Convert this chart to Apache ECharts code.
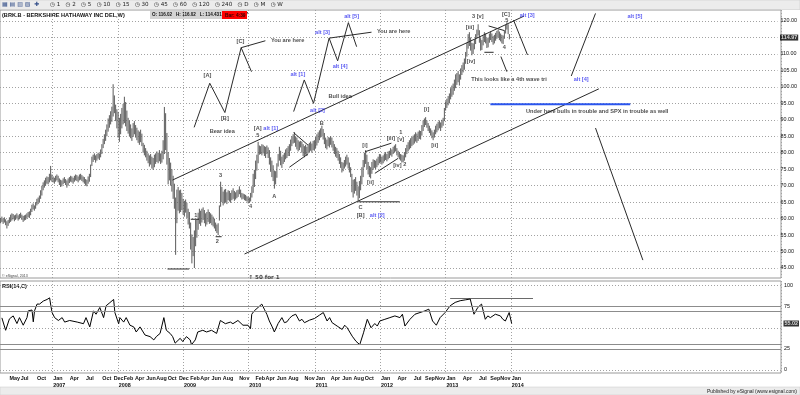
<!DOCTYPE html>
<html>
<head>
<meta charset="utf-8">
<title>BRK.B weekly</title>
<script src="https://cdn.jsdelivr.net/npm/echarts@6/dist/echarts.min.js"></script>
<style>
html,body{margin:0;padding:0;background:#fff;}
#chart{width:800px;height:395px;}
</style>
</head>
<body>
<div id="chart"></div>
<script>
// ---------------- data ----------------
const symbolTitle = '(BRK.B - BERKSHIRE HATHAWAY INC DEL,W)';
const firstWeek = '2006-03-17';
const totalWeeks = 622; // weekly slots on the time axis (data + empty projection space)

// weekly lows / highs, 2006-03-17 .. 2014-01-03
const lows = [
 58.6,59.0,58.4,58.8,58.0,57.0,57.8,58.6,59.0,59.4,
 59.8,59.2,59.6,60.0,59.4,59.8,60.2,59.6,59.0,59.4,
 59.6,60.0,60.4,60.2,61.0,62.0,62.8,62.4,63.0,64.0,
 64.4,65.0,66.0,67.0,68.6,69.4,70.0,70.6,70.4,71.0,71.6,71.2,
 71.0,70.6,71.2,71.6,71.0,70.2,69.6,69.8,70.4,70.8,
 70.2,69.4,70.0,70.8,71.2,71.0,70.6,71.2,71.6,71.4,
 71.0,71.6,71.8,71.4,71.0,70.6,70.0,69.8,70.6,71.2,
 72.6,76.0,77.2,77.8,77.0,77.6,78.2,77.8,78.6,79.6,
 81.4,82.6,83.6,85.0,86.4,87.6,88.6,89.4,91.0,92.0,89.6,87.4,
 84.6,83.3,85.6,87.4,88.6,89.0,88.0,86.6,85.8,85.0,
 84.4,83.6,84.8,85.6,84.6,83.8,83.0,82.4,83.2,82.0,
 80.0,79.2,78.6,77.6,76.8,75.8,76.4,75.2,74.8,75.6,
 76.6,77.2,76.8,77.4,76.6,77.0,78.0,79.6,80.8,76.4,
 70.4,71.6,70.0,68.2,66.0,63.0,49.0,58.6,62.4,61.6,62.0,62.6,
 61.2,60.6,61.8,60.2,58.2,57.0,50.6,46.4,48.6,45.0,51.6,54.2,
 56.6,58.4,57.8,58.8,59.6,58.6,57.6,58.2,59.0,58.4,
 58.6,58.0,57.6,57.0,56.2,55.6,55.0,59.4,63.6,65.0,
 64.0,64.6,65.0,64.4,65.6,65.2,64.8,65.6,66.0,65.4,
 65.8,66.2,66.6,67.4,66.4,65.8,66.0,65.6,65.4,65.2,64.6,
 64.8,65.2,66.4,67.8,69.6,72.0,74.6,76.8,79.4,79.6,79.2,79.8,
 79.0,78.4,79.6,78.4,76.4,74.2,72.6,71.4,69.1,70.4,
 72.4,75.8,77.6,76.2,75.4,76.6,77.2,78.0,78.4,79.0,
 79.0,80.6,82.0,82.8,83.0,81.8,81.0,80.4,80.8,81.6,
 80.0,79.0,78.6,79.4,79.0,79.8,80.2,80.6,80.0,80.8,
 80.6,81.4,82.2,83.0,83.8,84.6,85.0,84.0,82.6,81.4,
 81.0,82.0,81.6,82.4,81.6,80.6,79.6,78.8,78.4,77.6,
 76.6,75.4,74.0,74.4,75.2,75.8,76.4,75.2,74.0,72.6,
 68.0,66.4,67.6,68.4,67.0,65.4,66.2,68.6,70.4,72.6,
 75.6,76.6,75.0,73.4,72.6,72.2,73.6,74.8,75.4,75.0,
 75.6,76.2,76.8,77.0,76.4,76.8,77.4,77.8,77.4,78.0,
 78.4,79.2,78.8,79.6,80.0,80.4,79.2,78.6,78.0,77.6,
 77.0,77.2,77.6,78.6,79.6,80.4,81.0,81.4,82.0,82.4,
 82.8,83.4,83.0,83.6,84.2,84.0,85.2,86.6,87.8,88.4,
 87.6,86.6,86.0,85.2,84.4,83.8,84.6,85.6,86.2,86.8,87.4,86.6,87.6,88.2,
 89.6,92.8,93.6,94.4,95.0,96.2,97.0,97.6,98.8,99.6,
 100.6,101.4,100.4,102.2,103.6,104.4,105.2,107.0,109.2,111.6,
 112.4,111.0,109.6,110.0,111.4,113.0,114.8,115.6,113.4,111.0,
 111.2,112.6,113.6,113.2,111.8,112.0,113.4,114.2,113.6,112.8,113.2,114.0,114.6,
 115.0,114.2,113.8,113.2,113.0,114.6,116.2,117.4,116.0,114.4317
];
const highs = [
 60.2,60.6,60.0,60.4,59.8,59.2,59.6,60.4,61.2,61.6,
 61.4,61.0,61.2,61.6,61.0,61.4,61.8,61.2,60.8,61.0,
 61.2,61.6,62.0,62.2,63.0,64.2,64.6,64.0,65.0,66.0,
 66.4,67.0,68.6,70.0,71.0,71.6,72.4,72.8,72.6,73.6,76.0,73.4,
 72.8,72.4,73.0,73.4,73.0,72.2,71.8,71.6,72.2,72.6,
 72.0,71.6,72.2,72.6,73.0,72.8,72.4,73.0,73.4,73.2,
 72.8,73.4,73.6,73.2,72.8,72.6,72.0,71.8,72.8,73.6,
 76.4,78.8,79.4,79.8,79.2,79.6,80.0,79.8,81.0,82.6,
 84.2,85.6,87.0,88.6,90.4,91.4,92.6,94.0,100.8,97.4,94.6,93.2,
 92.4,90.6,91.8,93.6,94.8,97.0,95.4,92.8,90.6,89.8,
 88.6,87.4,89.0,89.6,88.4,87.6,86.8,86.4,87.0,85.8,
 83.0,82.4,81.4,80.6,79.8,79.2,79.6,78.8,78.4,79.4,
 79.8,80.4,80.0,80.8,79.8,80.6,83.8,93.9,92.0,86.0,
 80.2,78.4,77.0,75.0,73.0,70.6,66.4,68.8,69.6,68.6,68.8,67.8,
 66.0,65.4,65.8,64.8,63.0,62.0,58.8,55.2,54.4,56.4,59.6,59.8,
 61.8,63.0,62.4,63.0,63.4,62.6,61.6,62.0,62.8,62.0,
 61.6,61.2,60.6,60.0,58.8,58.2,58.6,64.0,71.2,69.6,
 68.2,68.8,69.0,68.0,68.6,68.4,67.8,68.6,69.2,68.4,
 68.0,68.6,68.8,69.8,68.8,67.8,67.6,67.4,67.2,66.8,66.6,
 66.4,67.8,69.8,73.6,74.8,77.6,79.4,83.3,82.2,82.0,82.6,82.4,
 82.0,81.8,82.2,81.6,80.8,78.6,77.6,76.2,74.6,74.4,
 76.8,79.6,81.8,80.6,78.8,79.4,80.0,81.0,81.4,82.0,
 82.6,84.0,85.0,85.6,86.3,85.0,84.6,83.8,83.4,83.6,
 83.4,82.6,82.0,82.4,81.8,82.6,83.0,83.4,82.8,83.6,
 83.8,84.8,85.6,86.2,86.8,87.4,88.2,87.2,86.0,84.6,
 84.0,84.8,84.6,85.0,84.6,83.6,82.6,81.8,81.4,80.6,
 79.6,78.6,77.2,77.0,77.8,78.8,79.4,78.6,77.0,75.6,
 73.6,71.8,72.0,72.6,71.2,69.8,71.4,73.0,75.6,77.8,
 80.0,80.8,79.4,77.2,76.0,75.6,77.2,78.0,77.8,77.6,
 78.2,78.8,79.6,79.4,78.8,79.2,79.8,80.2,79.6,80.4,
 80.6,81.4,81.0,81.8,82.2,82.6,81.4,80.6,80.2,79.6,
 79.4,79.2,80.2,81.4,82.4,83.2,83.8,84.4,84.8,85.2,
 85.6,86.2,85.8,86.4,86.8,86.6,88.4,89.8,90.4,90.8,
 89.8,89.0,88.2,87.4,86.8,86.2,87.0,88.2,88.8,89.4,89.8,89.2,90.0,90.6,
 93.6,95.6,96.4,97.2,98.0,99.6,100.4,101.0,102.2,103.8,
 104.2,104.8,103.8,105.6,106.6,107.4,108.6,110.6,113.4,116.0,
 116.6,115.0,113.4,113.2,114.4,116.0,117.4,119.0,117.2,114.8,
 114.2,115.6,116.6,116.2,114.8,115.0,116.2,116.8,116.2,115.4,115.8,116.4,117.0,
 117.4,116.8,116.2,115.8,115.6,117.2,118.8,119.6,119.0,116.02
];
const lastOpen = 116.02;
const lastClose = 114.97;
const barClock = '4:39';

// RSI(14): [week index, value]
const rsiWeeks = [1,4,5,7,10,13,15,18,21,22,25,26,27,29,31,34,37,39,40,41,43,46,49,51,55,61,66,68,71,74,76,79,82,84,87,90,91,94,95,98,100,103,106,108,111,115,119,122,124,127,130,131,132,135,137,139,143,145,148,151,152,155,157,161,164,168,172,175,176,179,183,185,189,193,197,199,200,202,205,206,
 208,210,212,214,216,218,221,224,226,228,230,232,235,238,240,242,246,250,254,257,260,262,264,268,272,274,276,280,283,286,289,292,295,298,300,302,306,310,314,318,320,322,326,330,334,338,341,344,347,350,354,358,362,366,370,374,377,380,383,386,388,390,394,398,400,402,405,407];
const rsiValues = [61.7,47,45,60.5,64,55,62,53,62,70,71,57,70,78,78,81.6,83.5,85.4,76,68,62,58.6,62,56.7,58.6,56.7,54.8,62,51,70,66,74,62,76,79.7,83.5,68,54.8,62,56.7,62,53,51,45,51,41.4,39.5,35.6,39.5,43.3,62,62,47,43.3,39.5,31.8,37.5,33.7,39.5,35.6,29.9,35.6,45,47,45,47,43.3,58.6,56.7,54.8,56.7,54.8,58.6,53,53,49,66,70,74,76,
 78,72,66,58,52,45,55,62,56,57,61,64,66,58,60,56,59,61,65,68,58,62,56,52,48,53,50,40,34,30,44,60,50,55,52,58,60,62,64,62,66,52,60,66,68,70,72,58,53,62,68,76,80,82,83,84,66,74,78,60,64,62,66,64,60,58,68,55.02];
const rsiGuides = [75, 70, 30, 25];
const rsiHighLine = {from: 358, to: 424, level: 85.2};

// time axis labels
const monthLabels = ['2006-05','2006-07','2006-10','2007-01','2007-04','2007-07','2007-10','2007-12',
 '2008-02','2008-04','2008-06','2008-08','2008-10','2008-12','2009-02','2009-04','2009-06','2009-08','2009-11',
 '2010-02','2010-04','2010-06','2010-08','2010-11','2011-01','2011-04','2011-06','2011-08','2011-10',
 '2012-01','2012-04','2012-07','2012-09','2012-11','2013-01','2013-04','2013-07','2013-09','2013-11','2014-01'];
const yearLabels = ['2007','2008','2009','2010','2011','2012','2013','2014'];
const monthNames = ['Jan','Feb','Mar','Apr','May','Jun','Jul','Aug','Sep','Oct','Nov','Dec'];

// hand-drawn annotations, in chart coordinates [week index, price]
const annoLines = [
 [[154.8,87.7],[167.3,101.1],[179.4,92.2],[192.4,111.9],[200.7,104.6]],
 [[192.4,111.9],[211.8,114.0]],
 [[234.4,92.5],[242.9,102.1],[250.3,95.0],[262.8,114.8],[269.6,107.9],[278.2,119.5],[284.8,112.2]],
 [[262.8,114.8],[296.7,116.6]],
 [[137.5,71.7],[418.8,121.5]],
 [[195.1,49.25],[478.6,99.4]],
 [[152.1,59.8],[158.7,59.8]],
 [[172.0,54.5],[176.8,54.5]],
 [[133.5,44.7],[150.8,44.7]],
 [[286.1,65.1],[319.3,65.1]],
 [[234.4,86.1],[245.8,82.35]],
 [[231.0,75.6],[245.8,79.6]],
 [[291.5,80.3],[312.6,82.9]],
 [[299.4,73.75],[318.0,78.3]],
 [[390.4,118.5],[402.9,117.1]],
 [[387.0,110.5],[394.4,110.5]],
 [[410.3,120.3],[421.5,109.7]],
 [[400.2,109.2],[405.0,104.6]],
 [[456.5,103.3],[475.9,122.3]],
 [[475.9,87.5],[513.8,47.4]]
];
const blueLevel = {from: 391.8, to: 503.7, price: 94.7};
// [week, price, text, colour (d=dark, b=blue), anchor (c=centre, l=left)]
const annoTexts = [
 [165.5,103.6,'[A]','d','c'],[179.4,90.45,'[B]','d','c'],[191.9,113.7,'[C]','d','c'],
 [177.3,86.4,'Bear idea','d','c'],[215.8,114.0,'You are here','d','l'],
 [237.8,103.9,'alt [1]','b','c'],[253.5,92.77,'alt [2]','b','c'],[257.5,116.6,'alt [3]','b','c'],
 [271.6,106.1,'alt [4]','b','c'],[280.8,121.5,'alt [5]','b','c'],[271.6,97.0,'Bull idea','d','c'],
 [300.7,116.75,'You are here','d','l'],
 [376.1,102.1,'This looks like a 4th wave tri','d','l'],[458.1,102.1,'alt [4]','b','l'],
 [419.9,92.67,'Under here bulls in trouble and SPX in trouble as well','d','l'],
 [414.9,121.8,'alt [3]','b','l'],[501.1,121.3,'alt [5]','b','l'],
 [404.2,122.1,'[C]','d','c'],[405.0,120.1,'5','d','c'],[402.9,111.9,'4','d','c'],
 [381.7,121.3,'3 [v]','d','c'],[375.5,118.1,'[iii]','d','c'],[376.3,107.6,'[iv]','d','c'],
 [340.8,93.1,'[i]','d','c'],[347.2,82.1,'[ii]','d','c'],
 [291.5,82.1,'[i]','d','c'],[295.9,70.9,'[ii]','d','c'],[312.2,84.2,'[iii]','d','c'],
 [320.1,83.9,'[v]','d','c'],[320.1,86.1,'1','d','c'],[317.4,76.1,'[iv]','d','c'],[323.3,76.5,'2','d','c'],
 [256.9,88.9,'B','d','c'],[219.0,66.65,'A','d','c'],[288.0,63.4,'C','d','c'],[288.0,61.1,'[B]','d','c'],
 [301.3,61.1,'alt [2]','b','c'],[205.7,87.4,'[A]','d','c'],[216.1,87.4,'alt [1]','b','c'],
 [205.7,85.2,'5','d','c'],[156.1,61.1,'1','d','c'],[173.3,53.0,'2','d','c'],[176.0,73.2,'3','d','c'],
 [199.9,63.6,'4','d','c'],[197.8,42.2,'\u2191 50 for 1','d','l']
];

// ---------------- build ----------------
const FONT = '"Liberation Sans", "DejaVu Sans", Arial, sans-serif';
const DARK = '#1a1a1a', BLUE = '#3232f0', GRID = '#a2a2a2';
const t0 = Date.parse(firstWeek + 'T00:00:00Z');
const weeks = [];
for (let k = 0; k < totalWeeks; k++) weeks.push(new Date(t0 + k * 7 * 864e5).toISOString().slice(0, 10));
const firstWeekOnOrAfter = d => weeks.findIndex(w => w >= d);
const monthIdx = new Map(monthLabels.map(m => [firstWeekOnOrAfter(m + '-01'), monthNames[+m.slice(5, 7) - 1]]));
const yearIdx = new Map(yearLabels.map(y => [firstWeekOnOrAfter(y + '-01-01'), y]));

const bars = lows.map((l, k) => [k, l, highs[k]]);
const nLast = lows.length - 1;
const rsiData = rsiWeeks.map((w, k) => [w, rsiValues[k]]);

const chart = echarts.init(document.getElementById('chart'), null, {renderer: 'canvas'});
const xVal = (grid) => ({type: 'value', gridIndex: grid, min: -0.5, max: totalWeeks - 0.5, show: false});
const xFrame = (grid, extra) => Object.assign({
  type: 'category', gridIndex: grid, data: weeks, boundaryGap: true,
  axisLine: {show: false}, axisTick: {show: false}, axisLabel: {show: false},
  splitLine: {show: true, interval: (i) => yearIdx.has(i), lineStyle: {color: GRID, type: [1, 2], width: 1}}
}, extra || {});
const axisFont = {fontFamily: FONT, fontSize: 5.4, fontWeight: 'bold', color: '#111'};

chart.setOption({
  animation: false,
  backgroundColor: '#fff',
  grid: [
    {left: 0, right: 19, top: 10, height: 268, show: true, borderColor: '#9a9a9a', borderWidth: 1},
    {left: 0, right: 19, top: 21, height: 247},
    {left: 0, right: 19, top: 281, height: 92, show: true, borderColor: '#9a9a9a', borderWidth: 1},
    {left: 0, right: 19, top: 285.5, height: 84.5}
  ],
  xAxis: [
    xFrame(0),
    xVal(1),
    xFrame(2, {axisLabel: Object.assign({show: true, interval: (i) => monthIdx.has(i), formatter: (v, i) => monthIdx.get(i) || '', align: 'left', margin: 3}, axisFont)}),
    xFrame(2, {position: 'bottom', offset: 7, splitLine: {show: false},
      axisLabel: Object.assign({show: true, interval: (i) => yearIdx.has(i), formatter: (v, i) => yearIdx.get(i) || '', align: 'left', margin: 3}, axisFont)}),
    xVal(3)
  ],
  yAxis: [
    {type: 'value', gridIndex: 0, min: 0, max: 1, show: false},
    {type: 'value', gridIndex: 1, position: 'right', min: 45, max: 120, interval: 5,
      axisLine: {show: false}, axisTick: {show: false},
      axisLabel: Object.assign({margin: 3, formatter: v => (Math.abs(v - 115) < 0.01 ? '' : v.toFixed(2))}, axisFont, {fontWeight: 'normal'}),
      splitLine: {lineStyle: {color: GRID, type: [1, 2]}}},
    {type: 'value', gridIndex: 2, min: 0, max: 1, show: false},
    {type: 'value', gridIndex: 3, position: 'right', min: 0, max: 100, interval: 25,
      axisLine: {show: false}, axisTick: {show: false},
      axisLabel: Object.assign({margin: 3, formatter: v => (v === 50 ? '' : String(v))}, axisFont, {fontWeight: 'normal'}),
      splitLine: {lineStyle: {color: GRID, type: [1, 2]}}}
  ],
  series: [
    {
      type: 'custom', xAxisIndex: 1, yAxisIndex: 1, clip: false, silent: true,
      data: bars, encode: {x: 0, y: [1, 2]},
      renderItem: (params, api) => {
        const a = api.coord([api.value(0), api.value(1)]);
        const b = api.coord([api.value(0), api.value(2)]);
        return {type: 'line', shape: {x1: a[0], y1: a[1], x2: b[0], y2: b[1]}, style: {stroke: '#5a5a5a', lineWidth: 1}};
      }
    },
    {
      type: 'lines', coordinateSystem: 'cartesian2d', xAxisIndex: 1, yAxisIndex: 1, polyline: true, clip: false, silent: true,
      lineStyle: {color: '#2a2a2a', width: 1, opacity: 1},
      data: annoLines.map(p => ({coords: p}))
        .concat([{coords: [[blueLevel.from, blueLevel.price], [blueLevel.to, blueLevel.price]], lineStyle: {color: '#2a55ee', width: 2}}])
    },
    {
      type: 'scatter', xAxisIndex: 1, yAxisIndex: 1, symbolSize: 1, clip: false, silent: true,
      itemStyle: {color: 'rgba(0,0,0,0)'},
      data: annoTexts.map(t => ({
        value: [t[0], t[1]],
        label: {show: true, formatter: t[2], position: t[4] === 'l' ? 'right' : 'inside', distance: 0,
          color: t[3] === 'b' ? BLUE : DARK, fontFamily: /\u2191/.test(t[2]) ? '"DejaVu Sans", sans-serif' : FONT,
          fontSize: 5.6, fontWeight: 'bold'}
      }))
    },
    {
      type: 'scatter', xAxisIndex: 1, yAxisIndex: 1, symbolSize: 1, clip: false, silent: true,
      itemStyle: {color: 'rgba(0,0,0,0)'},
      data: [{value: [totalWeeks - 0.5, lastClose], label: {show: true, position: 'right', distance: 2,
        formatter: lastClose.toFixed(2), backgroundColor: '#000', color: '#fff', padding: [1, 1, 0, 1],
        fontFamily: FONT, fontSize: 5.4, fontWeight: 'bold'}}]
    },
    {
      type: 'line', xAxisIndex: 4, yAxisIndex: 3, data: rsiData, symbol: 'none', silent: true,
      lineStyle: {color: '#000', width: 1},
      markLine: {silent: true, symbol: 'none', label: {show: false},
        lineStyle: {color: '#8c8c8c', width: 1.2, type: 'solid'},
        data: rsiGuides.map(v => ({yAxis: v}))}
    },
    {
      type: 'lines', coordinateSystem: 'cartesian2d', xAxisIndex: 4, yAxisIndex: 3, silent: true,
      lineStyle: {color: '#6a6a6a', width: 1, opacity: 1},
      data: [{coords: [[rsiHighLine.from, rsiHighLine.level], [rsiHighLine.to, rsiHighLine.level]]}]
    },
    {
      type: 'scatter', xAxisIndex: 4, yAxisIndex: 3, symbolSize: 1, clip: false, silent: true,
      itemStyle: {color: 'rgba(0,0,0,0)'},
      data: [{value: [totalWeeks - 0.5, rsiValues[rsiValues.length - 1]], label: {show: true, position: 'right', distance: 2,
        formatter: rsiValues[rsiValues.length - 1].toFixed(2), backgroundColor: '#000', color: '#fff', padding: [1, 1, 0, 1],
        fontFamily: FONT, fontSize: 5.4, fontWeight: 'bold'}}]
    }
  ],
  graphic: [
    {type: 'rect', shape: {x: 0, y: 0, width: 800, height: 9.5}, style: {fill: '#ececec', stroke: '#c4c4c4', lineWidth: 0.5}, silent: true},
    {type: 'text', x: 2, y: 4.8, style: {text: '\u25A6 \u25A4 \u25A5 \u25A7  \u271A', font: '6px "DejaVu Sans"', fill: '#35508a', verticalAlign: 'middle'}},
    {type: 'text', x: 50, y: 4.8, style: {
      text: '\u25F7 1   \u25F7 2   \u25F7 5   \u25F7 10   \u25F7 15   \u25F7 30   \u25F7 45   \u25F7 60   \u25F7 120   \u25F7 240   \u25F7 D   \u25F7 M   \u25F7 W',
      font: '5.6px "DejaVu Sans"', fill: '#222', verticalAlign: 'middle'}},
    {type: 'text', x: 2, y: 15.2, style: {text: symbolTitle, font: 'bold 5.6px ' + FONT, fill: '#111', verticalAlign: 'middle'}},
    {type: 'rect', shape: {x: 150, y: 11, width: 72, height: 8}, style: {fill: '#d4d4d4'}},
    {type: 'text', x: 152, y: 15.2, style: {
      text: 'O: ' + lastOpen.toFixed(2) + '   H: ' + highs[nLast].toFixed(2) + '   L: ' + lows[nLast] + '   C: ' + lastClose.toFixed(2),
      font: 'bold 4.6px ' + FONT, fill: '#111', verticalAlign: 'middle'}},
    {type: 'rect', shape: {x: 222, y: 11, width: 25, height: 8}, style: {fill: '#ff0000'}},
    {type: 'text', x: 225, y: 15.2, style: {text: 'Bar: ' + barClock, font: 'bold 4.8px ' + FONT, fill: '#300', verticalAlign: 'middle'}},
    {type: 'text', x: 2, y: 286.5, style: {text: 'RSI(14,C)', font: 'bold 5.6px ' + FONT, fill: '#111', verticalAlign: 'middle'}},
    {type: 'text', x: 2, y: 275.5, style: {text: '\u00A9 eSignal, 2013', font: '3.6px ' + FONT, fill: '#444', verticalAlign: 'middle'}},
    {type: 'rect', shape: {x: 0, y: 387, width: 800, height: 8}, style: {fill: '#ececec', stroke: '#c8c8c8', lineWidth: 0.5}},
    {type: 'text', x: 797, y: 391.2, style: {text: 'Published by eSignal (www.esignal.com)', font: '5px ' + FONT, fill: '#222', align: 'right', verticalAlign: 'middle'}}
  ]
});
</script>
</body>
</html>
